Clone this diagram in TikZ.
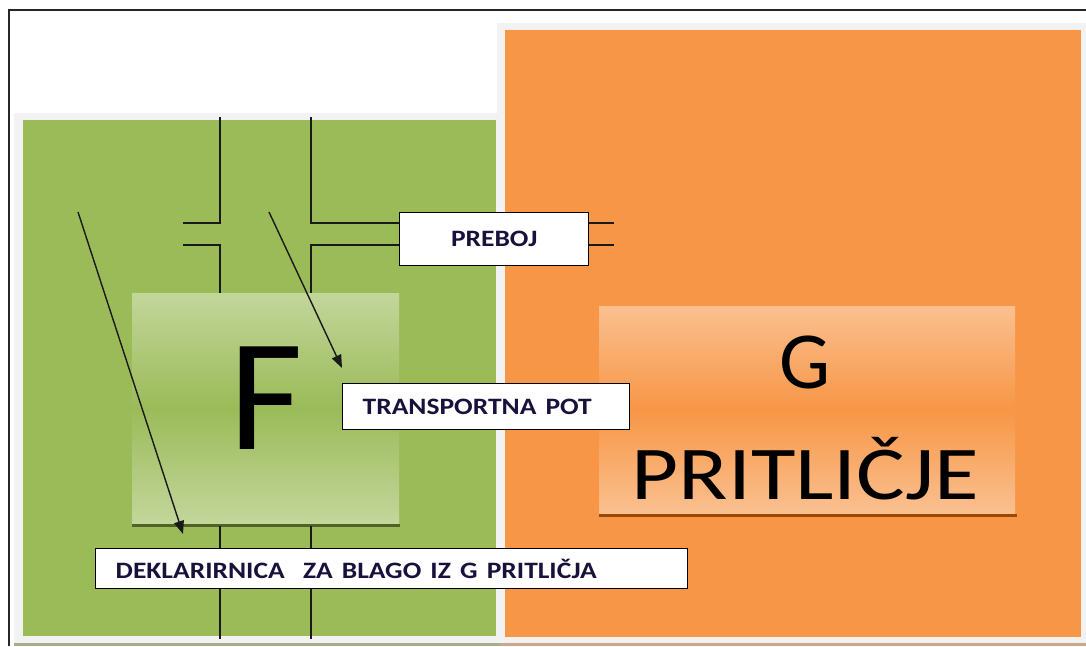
\documentclass[tikz,border=0pt]{standalone}
\usepackage{fontspec}
\usepackage{graphicx}
\setmainfont{Carlito}
\usetikzlibrary{arrows.meta}
\definecolor{grn}{HTML}{9BBB59}
\definecolor{grnl}{HTML}{C3D69B}
\definecolor{org}{HTML}{F79646}
\definecolor{orgl}{HTML}{FAC090}
\definecolor{framegray}{HTML}{F2F2F2}
\definecolor{labtxt}{RGB}{22,18,60}
\definecolor{grnline}{HTML}{4F6228}
\definecolor{orgline}{HTML}{984807}
\definecolor{stripL}{HTML}{A6AD8E}
\definecolor{stripR}{HTML}{C9A88F}
\newcommand\lbltext[1]{\scalebox{1.17}[1]{#1}}
\begin{document}
\begin{tikzpicture}[x=1pt,y=-1pt,
  lbl/.style={draw=black, line width=1.4pt, fill=white, anchor=north west,
    inner ysep=0pt, inner xsep=20pt, align=left,
    font=\bfseries\fontsize{23.5}{23.5}\selectfont, text=labtxt},
  wire/.style={draw=black!90, line width=1.4pt},
  arr/.style={wire, -{Triangle[length=13pt,width=10pt]}},
  zone/.style={anchor=north west, inner sep=0pt, outer sep=0pt},
  big/.style={inner sep=0pt, anchor=base, text=black}]
\useasboundingbox (0,0) rectangle (1086,646);
% outer frame
\draw[line width=1.6pt, black!85] (9,646) -- (9,10) -- (1090,10);
% gray frames
\fill[framegray] (14,113) rectangle (500,642.5);
\fill[framegray] (497,23) rectangle (1086,642.5);
\fill[stripL] (14,642.5) rectangle (500,646);
\fill[stripR] (500,642.5) rectangle (1086,646);
% main zones
\fill[grn] (23,120) rectangle (496,636);
\fill[org] (504.5,29.5) rectangle (1081,636.5);
% inner boxes
\node[zone, minimum width=267pt, minimum height=230pt,
      top color=grnl, bottom color=grnl, middle color=grn] (Fbox) at (132,293) {};
\node[zone, minimum width=416pt, minimum height=207pt,
      top color=orgl, bottom color=orgl, middle color=org] (Gbox) at (599,306) {};
\draw[grnline, line width=2.5pt] ([yshift=-2.5pt]Fbox.south west) -- ([yshift=-2.5pt,xshift=1pt]Fbox.south east) coordinate (Fline);
\draw[orgline, line width=2.5pt] ([yshift=-2.5pt]Gbox.south west) -- ([yshift=-2.5pt,xshift=2pt]Gbox.south east);
% big letters
\node[big, font=\fontsize{160}{160}\selectfont] (Ftxt) at (266.5,449) {F};
\node[big, font=\fontsize{81}{81}\selectfont] (Gtxt) at (805,388) {G};
\node[big, font=\fontsize{76}{76}\selectfont] (Ptxt) at (805.5,499) {\scalebox{1.2}[1]{PRITLIČJE}};
% label boxes
\node[lbl, text width=149pt, minimum height=53pt, align=center] (preboj) at (399,212) {\lbltext{PREBOJ}};
\node[lbl, text width=247pt, minimum height=46pt] (trans) at (342,383) {\lbltext{TRANSPORTNA POT}};
\node[lbl, text width=552pt, minimum height=40pt] (dek) at (95,548) {\lbltext{DEKLARIRNICA\ \ ZA BLAGO IZ G PRITLIČJA}};
% coordinates
\coordinate (a1) at (220,117);
\coordinate (a2) at (183,223);
\coordinate (a3) at (183,245);
\coordinate (a4) at (220,639);
\coordinate (b1) at (311,117);
\coordinate (b4) at (311,639);
\coordinate (sa) at (614,223);
\coordinate (sb) at (614,245);
\coordinate (d1) at (78,212);
\coordinate (d2) at (183,534);
\coordinate (e1) at (269,212);
\coordinate (e2) at (342,368);
% wires
\draw[wire] (a1) -- (a1 |- a2) -- (a2);
\draw[wire] (a3) -- (a1 |- a3) -- (a1 |- Fbox.north);
\draw[wire] (b1) -- (b1 |- sa) -- (preboj.west |- sa);
\draw[wire] (preboj.west |- sb) -- (b1 |- sb) -- (b1 |- Fbox.north);
\draw[wire] (preboj.east |- sa) -- (sa);
\draw[wire] (preboj.east |- sb) -- (sb);
\draw[wire] (a1 |- Fline) -- (a1 |- dek.north);
\draw[wire] (b1 |- Fline) -- (b1 |- dek.north);
\draw[wire] (a1 |- dek.south) -- (a4);
\draw[wire] (b1 |- dek.south) -- (b4);
% arrows
\draw[arr] (d1) -- (d2);
\draw[arr] (e1) -- (e2);
\end{tikzpicture}
\end{document}
